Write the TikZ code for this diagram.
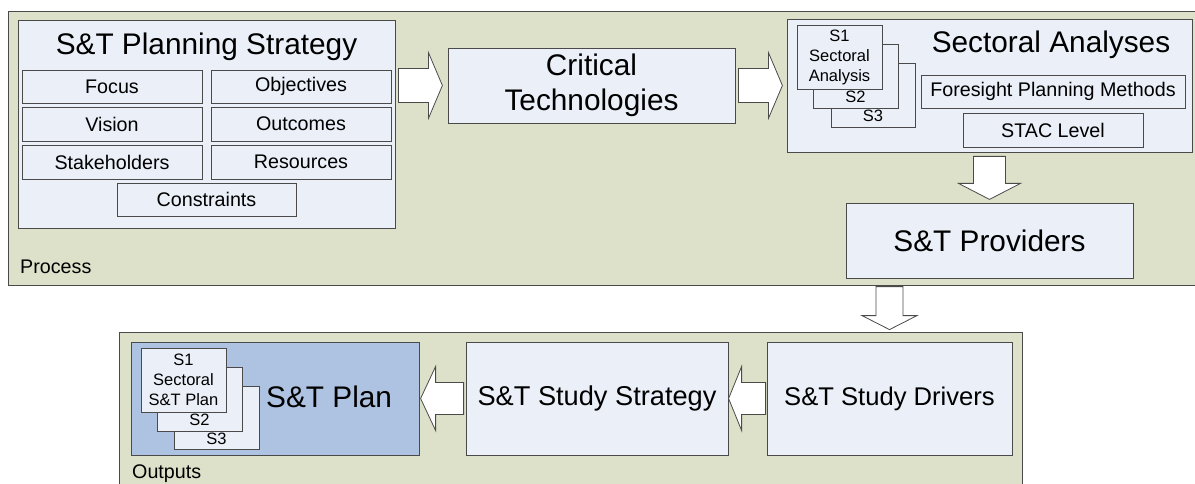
\documentclass[tikz,border=0pt]{standalone}
\usepackage{fontspec}
\setmainfont{Liberation Sans}
\usetikzlibrary{calc}
\definecolor{olivebg}{HTML}{DDE1C9}
\definecolor{boxc}{HTML}{EAEFF8}
\definecolor{bluec}{HTML}{AEC3E2}
\definecolor{bordc}{HTML}{4A4A4A}
\tikzset{
  bigf/.style={font=\fontsize{29.8}{35}\selectfont},
  midf/.style={font=\fontsize{19.7}{23}\selectfont},
  smallf/.style={font=\fontsize{16.5}{20}\selectfont},
  panel/.style={draw=bordc, fill=olivebg, line width=0.9pt},
  bx/.style={draw=bordc, fill=boxc, line width=0.8pt, inner sep=0pt, align=center},
  barrow/.style={draw=bordc, fill=white, line width=0.8pt, line join=miter},
}
\begin{document}
\begin{tikzpicture}[x=1pt,y=-1pt]
\useasboundingbox (0,0) rectangle (1195,484);
\clip (0,0) rectangle (1195,484);
\fill[white] (0,0) rectangle (1195,484);
% panels
\draw[panel] (8,11) rectangle (1205,285);
\node[midf, anchor=base west, inner sep=0pt] (proclbl) at (20,273) {Process};
\draw[panel] (119,332) rectangle (1022,500);
\node[midf, anchor=base west, inner sep=0pt] (outlbl) at (132,478) {Outputs};

% S&T Planning Strategy
\node[bx, minimum width=377, minimum height=208] (strat) at (206.5,124) {};
\node[bigf, anchor=base, inner sep=0pt] (strattitle) at (206.5,55) {S\&T Planning Strategy};
\node[bx, midf, minimum width=180, minimum height=33] (focus) at (112,86.5) {Focus};
\node[bx, midf, minimum width=180, minimum height=33] (objectives) at (301,86.5) {Objectives};
\node[bx, midf, minimum width=180, minimum height=34] (vision) at (112,124) {Vision};
\node[bx, midf, minimum width=180, minimum height=34] (outcomes) at (301,124) {Outcomes};
\node[bx, midf, minimum width=180, minimum height=34] (stake) at (112,162) {Stakeholders};
\node[bx, midf, minimum width=180, minimum height=34] (resources) at (301,162) {Resources};
\node[bx, midf, minimum width=179, minimum height=33] (constraints) at (206.5,199.5) {Constraints};

% Critical Technologies
\node[bx, bigf, minimum width=287, minimum height=75] (crit) at (591.5,85.5) {Critical\\Technologies};

% Sectoral Analyses
\node[bx, minimum width=405, minimum height=133] (sect) at (989.5,85.5) {};
\node[bigf, anchor=base, inner sep=0pt] (secttitle) at (1051,53) {Sectoral Analyses};
\node[bx, minimum width=84, minimum height=64] (sa3) at (873,95) {};
\node[smallf, anchor=base, inner sep=0pt] (sa3t) at ($(sa3.south)+(0,-6)$) {S3};
\node[bx, minimum width=85, minimum height=64] (sa2) at (855.5,76) {};
\node[smallf, anchor=base, inner sep=0pt] (sa2t) at ($(sa2.south)+(0,-6)$) {S2};
\node[bx, smallf, minimum width=85, minimum height=64] (sa1) at (839.5,57) {S1\\Sectoral\\Analysis};
\node[bx, midf, minimum width=264, minimum height=33] (foresight) at (1053,91.5) {Foresight Planning Methods};
\node[bx, midf, minimum width=180, minimum height=34] (stac) at (1053,130) {STAC Level};

% S&T Providers
\node[bx, bigf, minimum width=287, minimum height=75] (providers) at (989.5,240.5) {S\&T Providers};

% Outputs row
\node[draw=bordc, fill=bluec, line width=0.8pt, minimum width=288, minimum height=113, inner sep=0pt] (plan) at (275,398.5) {};
\node[bx, minimum width=85, minimum height=63] (ps3) at (216.5,417.5) {};
\node[smallf, anchor=base, inner sep=0pt] (ps3t) at ($(ps3.south)+(0,-5)$) {S3};
\node[bx, minimum width=85, minimum height=64] (ps2) at (199.5,399) {};
\node[smallf, anchor=base, inner sep=0pt] (ps2t) at ($(ps2.south)+(0,-6)$) {S2};
\node[bx, smallf, minimum width=85, minimum height=64] (ps1) at (183.5,380) {S1\\Sectoral\\S\&T Plan};
\node[bigf, anchor=base west, inner sep=0pt] (plantitle) at (266,407) {S\&T Plan};

\node[bx, font=\fontsize{27.2}{33}\selectfont, minimum width=262, minimum height=113] (strategy) at (597,398.5) {S\&T Study Strategy};
\node[bx, font=\fontsize{25.6}{31}\selectfont, minimum width=245, minimum height=113] (drivers) at (889.5,398.5) {S\&T Study Drivers};

% block arrows
\draw[barrow] ($(strat.east|-crit.west)+(3,-17)$) -- ++(30,0) -- ++(0,-16) -- ++(14,33) -- ++(-14,33) -- ++(0,-16) -- ++(-30,0) -- cycle;
\draw[barrow] ($(crit.east)+(3,-17)$) -- ++(30,0) -- ++(0,-16) -- ++(14,33) -- ++(-14,33) -- ++(0,-16) -- ++(-30,0) -- cycle;
\draw[barrow] ($(sect.south)+(-16,4)$) -- ++(0,27) -- ++(-15,0) -- ++(31,16) -- ++(31,-16) -- ++(-15,0) -- ++(0,-27) -- cycle;
\draw[barrow] ($(drivers.north)+(-13.5,-55)$) -- ++(0,29) -- ++(-14,0) -- ++(27.5,14) -- ++(27.5,-14) -- ++(-14,0) -- ++(0,-29) -- cycle;
\draw[barrow] ($(strategy.west)+(-2,-16)$) -- ++(-28,0) -- ++(0,-16) -- ++(-15,32) -- ++(15,32) -- ++(0,-16) -- ++(28,0) -- cycle;
\draw[barrow] ($(drivers.west)+(-1,-16)$) -- ++(-24,0) -- ++(0,-16) -- ++(-13,32) -- ++(13,32) -- ++(0,-16) -- ++(24,0) -- cycle;
\end{tikzpicture}
\end{document}
